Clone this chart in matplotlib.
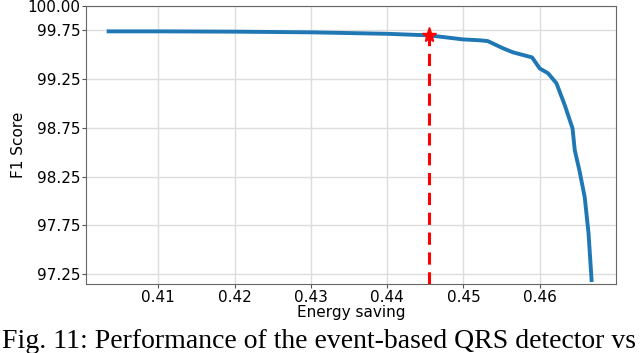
import matplotlib
matplotlib.use("Agg")
import matplotlib.pyplot as plt

energy_saving = [0.4035, 0.4100, 0.4200, 0.4300, 0.4400, 0.4455, 0.4499, 0.4522, 0.4532,
                 0.4552, 0.4565, 0.4590, 0.4600, 0.4611, 0.4622, 0.4633, 0.4643, 0.4646,
                 0.4652, 0.4659, 0.4664, 0.4668]
f1_score = [99.740, 99.740, 99.737, 99.730, 99.715, 99.699, 99.658, 99.648, 99.640,
            99.566, 99.525, 99.473, 99.360, 99.310, 99.207, 98.980, 98.746, 98.520,
            98.316, 98.040, 97.670, 97.190]
selected_x = 0.4455
selected_y = 99.699
xticks = [0.41, 0.42, 0.43, 0.44, 0.45, 0.46]
yticks = [97.25, 97.75, 98.25, 98.75, 99.25, 99.75, 100.00]

fig = plt.figure(figsize=(6.4, 3.53), dpi=100)
ax = fig.add_axes([0.134, 0.1955, 0.8285, 0.7875])

ax.plot(energy_saving, f1_score, color="#1f77b4", linewidth=2.8, zorder=3)
ax.plot([selected_x, selected_x], [97.15, selected_y], color="red", linestyle="--",
        linewidth=2.2, dashes=(4, 2.5), zorder=4)
ax.plot([selected_x], [selected_y], marker="*", color="red", markersize=11, zorder=5)

ax.set_xlim(0.4005, 0.4700)
ax.set_ylim(97.15, 100.0)
ax.set_xticks(xticks)
ax.set_yticks(yticks)
ax.set_xticklabels([f"{v:.2f}" for v in xticks])
ax.set_yticklabels([f"{v:.2f}" for v in yticks])
ax.tick_params(labelsize=11, length=3, color="#555555")
ax.tick_params(axis="y", pad=1)
ax.tick_params(axis="x", pad=1.5)
ax.grid(True, color="#dddddd", linewidth=1.0)
ax.set_axisbelow(True)
for s in ax.spines.values():
    s.set_color("#666666")
ax.set_xlabel("Energy saving", fontsize=11, labelpad=0)
ax.set_ylabel("F1 Score", fontsize=11)
ax.yaxis.set_label_coords(-0.113, 0.5)

fig.text(0.003, 0.014, "Fig. 11: Performance of the event-based QRS detector vs",
         family="Liberation Serif", fontsize=20, ha="left", va="baseline")

fig.savefig("out.png", dpi=100)
